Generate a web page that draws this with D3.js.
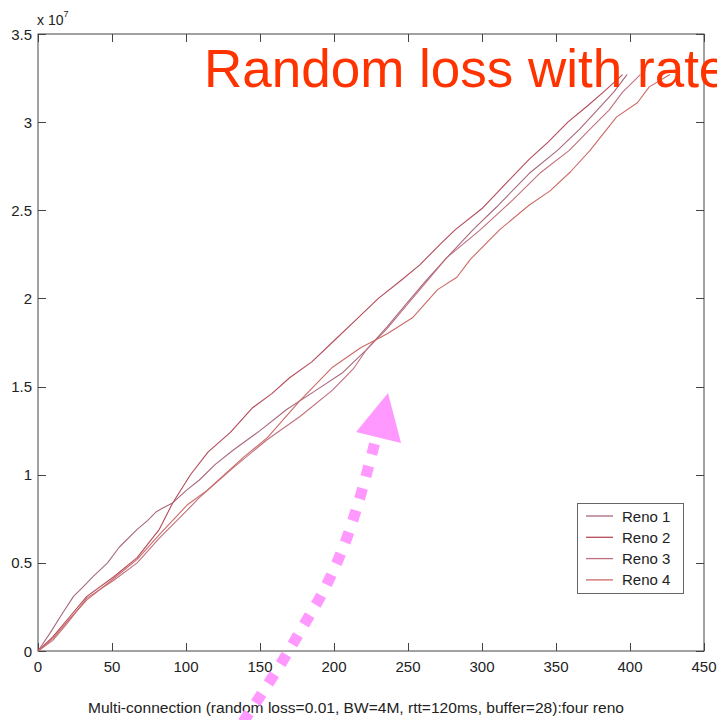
<!DOCTYPE html>
<html><head><meta charset="utf-8">
<script src="https://cdn.jsdelivr.net/npm/d3@7"></script>
<style>body{margin:0;background:#fff}svg{display:block}text{font-family:"Liberation Sans",Arial,sans-serif}</style>
</head><body><svg id="c" width="717" height="720"></svg>
<script>
// data (x: time, y: millions)
const seriesNames = ["Reno 1","Reno 2","Reno 3","Reno 4"];
const seriesColors = ["#a8687e","#b44a5a","#c0707e","#cc6a66"];
const reno1 = [[0,0],[8,1.0],[17,2.2],[24,3.1],[30,3.6],[37,4.2],[47,5.0],[55,5.9],[67,6.9],[74,7.4],[80,7.9],[84,8.1],[91,8.4],[100,9.1],[109,9.7],[120,10.6],[132,11.4],[150,12.5],[168,13.7],[188,14.8],[206,15.8],[222,17.1],[236,18.4],[249,19.7],[262,21.0],[275,22.2],[294,23.9],[310,25.2],[332,27.1],[351,28.4],[366,29.6],[378,30.7],[389,31.7],[398,32.7]];
const reno2 = [[0,0],[10,0.8],[20,1.8],[33,3.1],[51,4.2],[67,5.3],[82,6.9],[91,8.4],[103,10.0],[115,11.3],[130,12.4],[145,13.8],[158,14.6],[170,15.5],[185,16.4],[200,17.6],[215,18.8],[230,20.0],[245,21.0],[258,21.9],[272,23.1],[282,23.9],[300,25.1],[317,26.6],[332,27.9],[345,28.9],[358,30.0],[371,30.9],[382,31.7],[395,32.7]];
const reno3 = [[0,0],[10,0.6],[20,1.6],[33,3.0],[51,4.0],[67,5.0],[82,6.4],[101,8.0],[109,8.7],[132,10.4],[155,12.0],[177,13.3],[199,14.8],[213,16.0],[222,17.1],[236,18.3],[249,19.6],[262,20.9],[276,22.3],[299,23.9],[321,25.6],[339,27.1],[359,28.4],[373,29.6],[386,30.7],[395,31.7],[407,32.7]];
const reno4 = [[0,0],[10,0.7],[20,1.7],[33,2.9],[51,4.1],[67,5.2],[82,6.6],[101,8.3],[114,9.1],[139,11.0],[155,12.1],[177,14.2],[199,16.1],[218,17.2],[236,18.0],[253,18.9],[270,20.5],[283,21.2],[292,22.2],[312,23.9],[332,25.3],[346,26.1],[360,27.2],[373,28.4],[391,30.3],[405,31.1],[413,32.0],[427,32.7]];
const xTicks = [0,50,100,150,200,250,300,350,400,450];
const yTicks = [0,5,10,15,20,25,30,35];
const yTickLabels = ["0","0.5","1","1.5","2","2.5","3","3.5"];
const titleText = "Random loss with rate";
const captionText = "Multi-connection (random loss=0.01, BW=4M, rtt=120ms, buffer=28):four reno";
// annotation arrow in data coords
const arrowPath = [[138.5,-4.03],[161.5,-1.08],[178.4,1.30],[193.9,3.57],[207.4,6.13],[217.6,8.73],[227.7,11.85]];
const arrowHead = [[236.5,14.63],[214.9,12.42],[245.3,11.80]];

const svg = d3.select("#c");
const L=38,R=704,T=34,B=651;
const x = d3.scaleLinear().domain([0,450]).range([L,R]);
const y = d3.scaleLinear().domain([0,35]).range([B,T]);

const axisColor="#444";
const g = svg.append("g");
g.append("rect").attr("x",L).attr("y",T).attr("width",R-L).attr("height",B-T).attr("fill","none").attr("stroke",axisColor).attr("stroke-width",1);
const tl=8;
xTicks.forEach(v=>{
  const px=Math.round(x(v))+0.5;
  g.append("line").attr("x1",px).attr("x2",px).attr("y1",B).attr("y2",B-tl).attr("stroke",axisColor);
  g.append("line").attr("x1",px).attr("x2",px).attr("y1",T).attr("y2",T+tl).attr("stroke",axisColor);
  g.append("text").attr("x",x(v)).attr("y",672).attr("text-anchor","middle").attr("font-size",15).attr("fill","#222").text(v);
});
yTicks.forEach((v,i)=>{
  const py=Math.round(y(v))+0.5;
  g.append("line").attr("x1",L).attr("x2",L+tl).attr("y1",py).attr("y2",py).attr("stroke",axisColor);
  g.append("line").attr("x1",R).attr("x2",R-tl).attr("y1",py).attr("y2",py).attr("stroke",axisColor);
  g.append("text").attr("x",32).attr("y",y(v)+5.5).attr("text-anchor","end").attr("font-size",15).attr("fill","#222").text(yTickLabels[i]);
});
const ex = g.append("text").attr("x",37).attr("y",25).attr("font-size",14).attr("fill","#222");
ex.append("tspan").text("x 10");
ex.append("tspan").attr("dy",-8).attr("font-size",9).text("7");

const line = d3.line().x(d=>x(d[0])).y(d=>y(d[1]));
[reno1,reno2,reno3,reno4].forEach((s,i)=>{
  svg.append("path").datum(s).attr("d",line).attr("fill","none").attr("stroke",seriesColors[i]).attr("stroke-width",1.1).attr("stroke-linejoin","round");
});

const lg = svg.append("g");
lg.append("rect").attr("x",577.5).attr("y",503.5).attr("width",106).attr("height",90).attr("fill","#fff").attr("stroke","#666");
seriesNames.forEach((n,i)=>{
  const yy=516+i*21.3;
  lg.append("line").attr("x1",586).attr("x2",613).attr("y1",yy).attr("y2",yy).attr("stroke",seriesColors[i]).attr("stroke-width",1.3);
  lg.append("text").attr("x",622).attr("y",yy+5.5).attr("font-size",15).attr("fill","#222").text(n);
});

svg.append("text").attr("x",356).attr("y",713).attr("text-anchor","middle").attr("font-size",15.5).attr("textLength",536).attr("lengthAdjust","spacingAndGlyphs").attr("fill","#222").text(captionText);

svg.append("text").attr("x",204).attr("y",87).attr("font-size",53).attr("fill","#ff3300").text(titleText);

const aline = d3.line().x(d=>x(d[0])).y(d=>y(d[1])).curve(d3.curveCatmullRom);
svg.append("path").datum(arrowPath).attr("d",aline).attr("fill","none").attr("stroke","#ff99ff").attr("stroke-width",11).attr("stroke-dasharray","11 12");
svg.append("path").datum(arrowHead).attr("d",d3.line().x(d=>x(d[0])).y(d=>y(d[1]))).attr("fill","#ff99ff");
</script></body></html>
